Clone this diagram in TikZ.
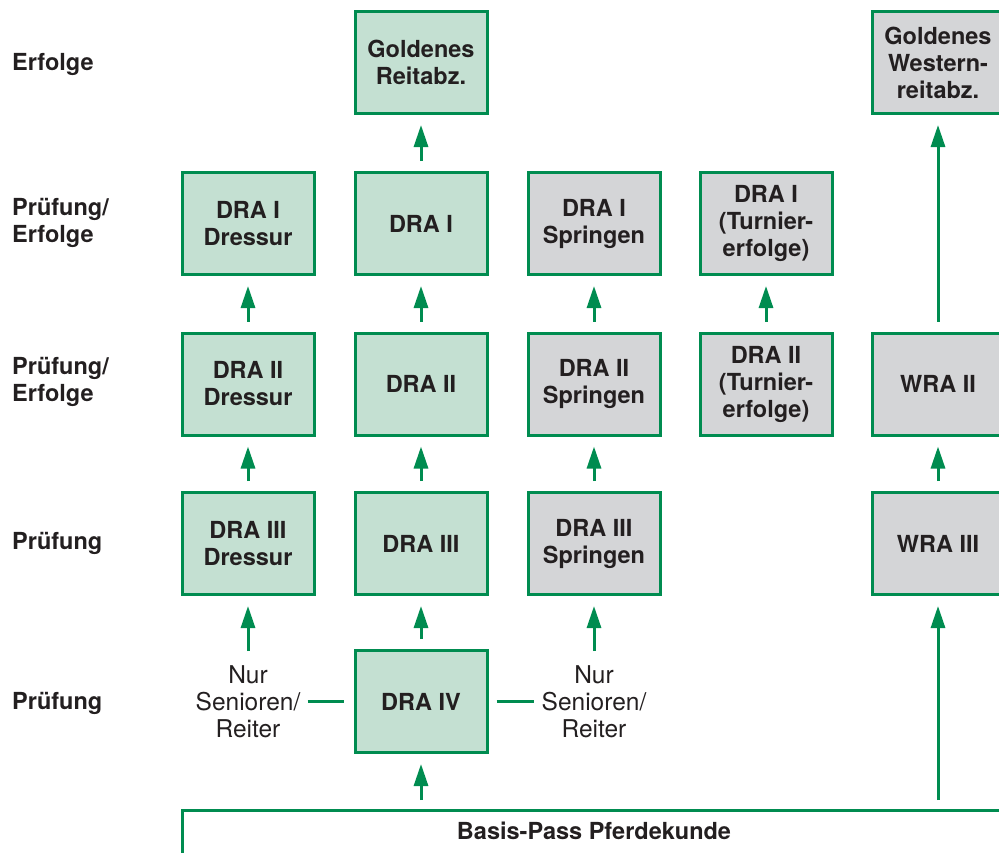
\documentclass[tikz,border=0pt]{standalone}
\usepackage{fontspec}
\setmainfont{TeX Gyre Heros}
\usepackage{tikz}
\usetikzlibrary{positioning, arrows.meta}

\definecolor{dgreen}{RGB}{0,140,80}
\definecolor{lgreen}{RGB}{196,224,210}
\definecolor{lgray}{RGB}{212,213,215}
\definecolor{ink}{RGB}{35,31,32}

\begin{document}
\begin{tikzpicture}[
    x=1pt, y=-1pt,
    box/.style={rectangle, draw=dgreen, line width=3pt, minimum width=132pt,
                minimum height=102pt, align=center, text=ink,
                font=\fontsize{23.5}{27}\selectfont\bfseries},
    greenbox/.style={box, fill=lgreen},
    graybox/.style={box, fill=lgray},
    arrow/.style={-{Triangle[length=22pt, width=14pt]}, draw=dgreen, line width=3pt,
                  shorten <=10pt, shorten >=10pt},
    link/.style={draw=dgreen, line width=3pt},
    rowlabel/.style={anchor=west, align=left, inner sep=0pt, text=ink,
                     font=\fontsize{23.5}{27}\selectfont\bfseries},
    note/.style={align=center, inner sep=2pt, text=ink,
                 font=\fontsize{24.5}{27}\selectfont}
]
    \useasboundingbox (0,0) rectangle (999,852);

    % Row labels
    \node[rowlabel] (lab1) at (12,64) {Erfolge};
    \node[rowlabel] (lab2) at (12,223) {Prüfung/\\Erfolge};
    \node[rowlabel] (lab3) at (12,382) {Prüfung/\\Erfolge};
    \node[rowlabel] (lab4) at (12,543) {Prüfung};
    \node[rowlabel] (lab5) at (12,703) {Prüfung};

    % Top row
    \node[greenbox] (gold) at (421,62.5) {Goldenes\\Reitabz.};
    \node[graybox] (goldw) at (938,62.5) {Goldenes\\Western-\\reitabz.};

    % DRA I
    \node[greenbox] (dra1d) at (248,223.5) {DRA I\\Dressur};
    \node[greenbox] (dra1) at (421,223.5) {DRA I};
    \node[graybox] (dra1s) at (594,223.5) {DRA I\\Springen};
    \node[graybox] (dra1t) at (766,223.5) {DRA I\\(Turnier-\\erfolge)};

    % DRA II / WRA II
    \node[greenbox] (dra2d) at (248,384) {DRA II\\Dressur};
    \node[greenbox] (dra2) at (421,384) {DRA II};
    \node[graybox] (dra2s) at (594,384) {DRA II\\Springen};
    \node[graybox] (dra2t) at (766,384) {DRA II\\(Turnier-\\erfolge)};
    \node[graybox] (wra2) at (938,384) {WRA II};

    % DRA III / WRA III
    \node[greenbox] (dra3d) at (248,543.5) {DRA III\\Dressur};
    \node[greenbox] (dra3) at (421,543.5) {DRA III};
    \node[graybox] (dra3s) at (594,543.5) {DRA III\\Springen};
    \node[graybox] (wra3) at (938,543.5) {WRA III};

    % DRA IV
    \node[greenbox] (dra4) at (421,701.5) {DRA IV};
    \node[note] (nur1) at (248,701.5) {Nur\\Senioren/\\Reiter};
    \node[note] (nur2) at (594,701.5) {Nur\\Senioren/\\Reiter};

    % Basis-Pass
    \coordinate (barL) at (182,860);
    \coordinate (barTL) at (182,810);
    \coordinate (barTR) at (1010,810);
    \coordinate (bar4) at (421,810);
    \coordinate (barW) at (938,810);
    \draw[link] (barL) -- (barTL) -- (barTR);
    \node[rowlabel, anchor=center] (basis) at (594,831) {Basis-Pass Pferdekunde};

    % Arrows
    \draw[arrow] (dra3d) -- (dra2d);
    \draw[arrow] (dra2d) -- (dra1d);
    \draw[arrow] (bar4) -- (dra4);
    \draw[arrow] (dra4) -- (dra3);
    \draw[arrow] (dra3) -- (dra2);
    \draw[arrow] (dra2) -- (dra1);
    \draw[arrow] (dra1) -- (gold);
    \draw[arrow] (dra3s) -- (dra2s);
    \draw[arrow] (dra2s) -- (dra1s);
    \draw[arrow] (dra2t) -- (dra1t);
    \draw[arrow] (barW) -- (wra3);
    \draw[arrow] (wra3) -- (wra2);
    \draw[arrow] (wra2) -- (goldw);
    \draw[arrow, shorten <=12pt] (nur1) -- (dra3d);
    \draw[arrow, shorten <=12pt] (nur2) -- (dra3s);

    % Side links
    \draw[link, shorten <=5pt, shorten >=10pt] (nur1) -- (dra4);
    \draw[link, shorten <=8pt, shorten >=5pt] (dra4) -- (nur2);

\end{tikzpicture}
\end{document}
